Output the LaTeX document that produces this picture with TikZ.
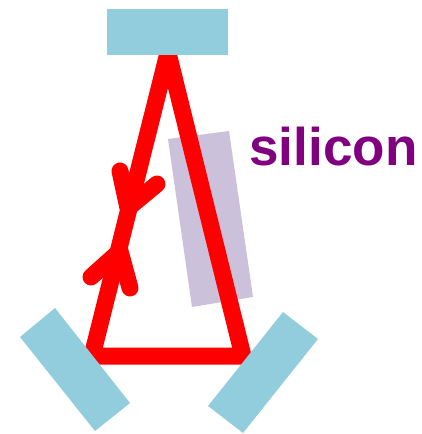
\documentclass[tikz,border=0pt]{standalone}
\usepackage{fontspec}
\setmainfont{Liberation Sans}
\definecolor{mirrorblue}{RGB}{146,205,221}
\definecolor{siliconlilac}{RGB}{204,193,218}
\definecolor{labelpurple}{RGB}{128,0,128}
\tikzset{
    mirror/.style={fill=mirrorblue},
    beam/.style={draw=red, line width=0.34cm, line join=miter},
    barb/.style={draw=red, line width=0.34cm, line cap=round, line join=round}
}

\begin{document}
\begin{tikzpicture}[x=0.02cm, y=-0.02cm]

\useasboundingbox (0,0) rectangle (422,434);

% --- Silicon slab ---
\fill[siliconlilac] (168,139) -- (229,131) -- (253,297) -- (192,307) -- cycle;

% --- Beam path ---
\draw[beam] (168,53) -- (92,356) -- (243,356) -- cycle;

% --- Direction arrows ---
\draw[barb] (120,171) -- (128,208) -- (157,184);
\draw[barb] (91,277) -- (120,251) -- (130,288);

% --- Mirrors ---
\fill[mirror] (107,9) rectangle (228,55);
\fill[mirror] (55,308) -- (20,337) -- (95,431) -- (130,403) -- cycle;
\fill[mirror] (283,312) -- (318,339) -- (243,433) -- (208,406) -- cycle;

% --- Label ---
\node[anchor=base west, inner sep=0pt, text=labelpurple, font=\fontsize{30.2pt}{36pt}\selectfont\bfseries] (siliconlabel) at (249,165) {silicon};

\end{tikzpicture}
\end{document}
